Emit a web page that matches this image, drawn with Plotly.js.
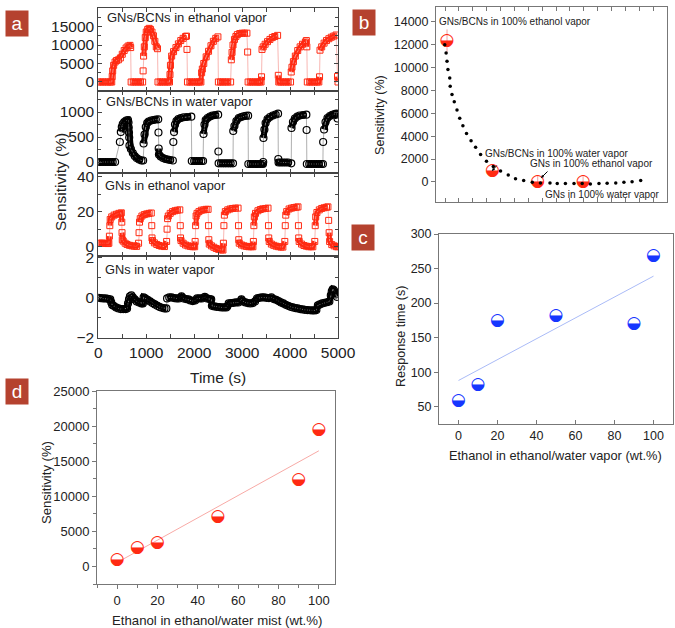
<!DOCTYPE html>
<html>
<head>
<meta charset="utf-8">
<script src="https://cdn.plot.ly/plotly-3.0.1.min.js"></script>
<style>
  body { margin: 0; background: #fff; }
  #chart { width: 675px; height: 628px; }
</style>
</head>
<body>
<div id="chart"></div>
<script>
// Panel a: sensitivity vs time, pairs of [time (s), sensitivity (%)]
const ethBCN = [
  [0,0],[50,0],[100,0],[150,0],[200,0],[250,0],[280,0],
  [290,1500],[300,3000],[320,4500],[350,5400],[380,5800],[420,6000],[460,6500],[500,7500],[540,8500],[580,9200],[620,9700],[660,9900],[675,9300],
  [685,0],[730,0],[780,0],[830,0],[880,0],[925,0],
  [935,3000],[945,7000],[960,9500],[980,12000],[1000,13500],[1030,14200],[1060,14500],[1090,14200],[1120,13500],[1150,12500],[1180,11000],[1210,9500],[1235,9000],
  [1245,0],[1290,0],[1340,0],[1390,0],[1440,0],[1485,0],
  [1495,2000],[1505,4500],[1530,7000],[1570,8200],[1620,9300],[1670,10300],[1720,11200],[1770,11800],[1820,12300],[1840,12400],[1850,8800],
  [1860,0],[1910,0],[1960,0],[2010,0],[2060,0],[2100,0],[2140,0],
  [2155,2500],[2170,3500],[2200,5000],[2250,6800],[2300,8300],[2350,9800],[2400,11000],[2450,11800],[2495,12200],
  [2505,0],[2550,0],[2600,0],[2650,0],[2700,0],[2760,0],
  [2775,6000],[2790,8000],[2810,10000],[2840,11500],[2870,12300],[2900,12800],[2950,13100],[3000,13200],[3050,13200],[3100,13200],[3115,8100],
  [3125,0],[3170,0],[3220,0],[3270,0],[3320,0],[3360,0],[3395,0],
  [3405,1400],[3415,8800],[3440,9500],[3480,10200],[3530,10900],[3580,11500],[3630,12000],[3680,12300],[3740,12600],[3755,1800],
  [3765,0],[3810,0],[3860,0],[3910,0],[3960,0],[4010,0],
  [4025,2700],[4040,4000],[4070,5500],[4110,7000],[4160,8500],[4210,9500],[4260,10200],[4320,10800],[4340,11200],[4350,9500],
  [4360,0],[4410,0],[4460,0],[4510,0],[4560,0],[4600,0],
  [4615,1400],[4625,8600],[4660,9500],[4710,10500],[4760,11200],[4810,11700],[4860,12100],[4910,12400],[4960,12700],[4990,1500],[5000,0]
];

const watBCN = [
  [0,0],[50,0],[100,0],[150,0],[200,0],[250,0],[300,0],[350,0],
  [450,400],[470,600],[490,700],[510,760],[540,800],[580,830],[620,840],
  [630,790],[635,690],[640,590],[645,490],[650,330],[680,260],[720,180],[760,120],[800,80],[850,50],[900,30],[935,30],
  [945,370],[965,550],[990,700],[1020,780],[1050,810],[1100,830],[1150,840],[1200,850],[1250,853],
  [1255,590],[1260,270],[1265,150],[1300,110],[1350,80],[1400,60],[1450,50],[1500,40],[1555,30],
  [1565,400],[1580,600],[1600,750],[1630,820],[1670,860],[1720,880],[1780,895],[1850,900],[1940,907],
  [1950,20],[2000,20],[2050,20],[2100,20],[2150,20],[2185,20],
  [2195,560],[2215,750],[2240,840],[2280,880],[2330,910],[2380,930],[2440,940],[2500,947],
  [2505,210],[2510,-27],[2560,-27],[2610,-27],[2660,-27],[2710,-27],[2760,-27],[2810,-27],
  [2815,620],[2840,720],[2880,820],[2930,880],[2980,900],[3030,915],[3080,925],[3125,927],
  [3130,-40],[3180,-40],[3230,-40],[3280,-40],[3330,-40],[3380,-40],[3435,-40],[3440,0],
  [3445,480],[3465,650],[3490,780],[3530,860],[3580,900],[3640,930],[3700,950],[3750,967],
  [3755,60],[3760,-10],[3810,-10],[3860,-10],[3910,-10],[3960,-10],[4025,-27],
  [4030,680],[4060,800],[4100,870],[4150,910],[4200,930],[4270,940],[4340,947],
  [4345,640],[4350,-40],[4400,-40],[4450,-40],[4500,-40],[4550,-40],[4600,-40],[4650,-40],[4685,-40],
  [4690,400],[4710,650],[4740,800],[4780,880],[4830,920],[4880,945],[4930,960],[4965,967],[4990,870]
];

const ethGN = [
  [0,2],[40,2],[80,2],[120,2],[160,1.9],[200,1.8],[220,2],[232,6],[240,12],[248,15.5],[280,17],[330,18],[380,18.5],[430,19],[480,19.3],[490,14],[495,8],[500,4],
  [520,3.2],[560,2],[600,1.3],[650,0.8],[700,0.5],[750,0.3],[800,0.2],
  [840,2],[850,8],[860,14],[875,16],[910,17.5],[960,18.3],[1010,18.7],[1060,19],[1105,19.2],[1115,12],[1120,5],
  [1130,3.5],[1170,2.2],[1220,1.3],[1270,0.7],[1320,0.3],[1380,0.1],
  [1425,3],[1435,10],[1445,16],[1460,17.5],[1500,19],[1550,20],[1600,20.5],[1650,20.8],[1700,21],[1710,12],[1715,5],
  [1725,3.5],[1770,2],[1820,1],[1870,0.5],[1920,0.2],[1970,0],[2010,0],
  [2020,3],[2030,12],[2040,17.5],[2060,19],[2100,20],[2150,20.8],[2200,21],[2250,21.3],[2290,21.3],[2300,12],[2305,4],
  [2315,1.5],[2360,0.5],[2410,-0.3],[2460,-1],[2510,-1.5],[2560,-1.8],[2600,-1.9],
  [2610,2],[2620,12],[2630,18],[2650,20],[2700,21],[2750,21.5],[2800,21.8],[2860,22],[2915,22],[2925,12],[2930,4],
  [2940,2],[2990,1],[3040,0.5],[3090,0.2],[3140,0],[3190,0],[3225,0],
  [3235,3],[3245,12],[3255,17],[3280,19],[3330,20.5],[3380,21.2],[3430,21.6],[3490,21.8],[3540,22],[3550,12],[3555,5],
  [3565,3],[3610,1.5],[3660,0.8],[3710,0.3],[3760,0],[3810,-0.2],[3850,-0.2],
  [3890,3],[3900,12],[3910,18],[3930,20],[3980,21.5],[4030,22],[4080,22.3],[4130,22.5],[4165,22.7],[4175,12],[4180,5],
  [4190,3],[4240,1.5],[4290,0.7],[4340,0.3],[4390,0],[4440,0],[4475,0],
  [4515,3],[4525,12],[4535,17],[4560,19.5],[4610,21],[4660,21.8],[4710,22.2],[4760,22.5],[4790,22.7],[4805,15],[4815,8],
  [4825,3],[4870,1.2],[4920,0.5],[4970,0],[5000,0]
];

const watGN = [
  [0,-0.02],[50,-0.03],[100,-0.05],[150,-0.05],[200,-0.07],[250,-0.1],[270,-0.25],[290,-0.38],[320,-0.42],[370,-0.5],[420,-0.55],[470,-0.58],[520,-0.58],[570,-0.58],[600,-0.55],
  [620,-0.3],[640,-0.1],[660,0.05],[690,0.1],[720,0.0],[760,-0.1],[800,-0.2],[850,-0.25],[900,-0.3],[930,-0.3],
  [945,0.0],[980,-0.05],[1030,-0.12],[1080,-0.2],[1130,-0.28],[1180,-0.35],[1230,-0.42],[1280,-0.48],[1330,-0.52],[1380,-0.55],[1420,-0.55],
  [1435,-0.05],[1480,0.0],[1530,0.0],[1580,-0.03],[1630,-0.05],[1680,-0.05],[1736,0.05],[1780,-0.05],[1830,-0.08],[1880,-0.1],[1920,-0.15],[1970,-0.18],[2020,-0.15],
  [2060,-0.05],[2110,-0.05],[2160,-0.05],[2222,0.03],[2270,-0.05],[2320,-0.08],[2355,-0.1],
  [2370,-0.42],[2420,-0.45],[2470,-0.47],[2520,-0.48],[2570,-0.5],[2620,-0.5],[2670,-0.5],[2690,-0.45],
  [2720,-0.3],[2770,-0.28],[2820,-0.27],[2870,-0.25],[2920,-0.25],[2986,-0.1],[3020,-0.2],[3070,-0.25],[3120,-0.28],[3170,-0.3],[3220,-0.28],[3270,-0.2],
  [3310,-0.05],[3360,-0.02],[3410,0.0],[3460,0.0],[3510,-0.02],[3560,-0.03],[3611,0.0],
  [3660,-0.08],[3710,-0.12],[3760,-0.18],[3810,-0.25],[3860,-0.3],[3910,-0.37],[3960,-0.42],[4010,-0.47],[4060,-0.5],[4110,-0.53],[4160,-0.55],
  [4210,-0.58],[4260,-0.6],[4310,-0.62],[4360,-0.63],[4410,-0.64],[4460,-0.65],[4510,-0.65],[4549,-0.63],
  [4580,-0.4],[4620,-0.35],[4670,-0.3],[4720,-0.27],[4770,-0.24],[4820,-0.2],[4850,0.1],[4870,0.3],[4890,0.4],[4920,0.35],[4950,0.15],[4975,0.03]
];

// Panel b: comparison of the four sensors
const compX = [1, 2, 3, 4];
const compSens = [12340, 960, 20, -1];
const compErr = [1000, 0, 500, 500];
const compLabels = ['GNs/BCNs in 100% ethanol vapor', 'GNs/BCNs in 100% water vapor', 'GNs in 100% ethanol vapor', 'GNs in 100% water vapor'];
// dotted decay curve
const decayX = [0.95,0.98,1.0,1.02,1.06,1.07,1.11,1.16,1.22,1.28,1.35,1.43,1.53,1.63,1.74,1.87,2.02,2.18,2.35,2.51,2.69,2.88,3.06,3.27,3.43,3.61,3.80,3.98,4.16,4.35,4.53,4.72,4.90,5.08,5.27];
const decayY = [11990,11270,10550,9830,9100,8380,7660,7020,6300,5580,4910,4250,3610,3030,2400,1820,1360,950,610,290,140,-30,-90,-90,-140,-140,-140,-140,-170,-140,-120,-90,-30,30,120];

// Panels c and d: ethanol content (wt.%)
const ethanolPct = [0, 10, 20, 50, 90, 100];
const responseTime = [58, 82, 174, 182, 170, 269];
const respFitX = [0, 100];
const respFitY = [88, 239];
const mistSens = [900, 2620, 3340, 7020, 12410, 19430];
const mistFitX = [0, 100];
const mistFitY = [570, 16480];

const FONT = 'Arial, "Liberation Sans", sans-serif';
const RED = '#ff2a12';
const BLUE = '#1636ff';
const W = 675, H = 628;
const px = v => v / W;
const py = v => 1 - v / H;

const aDomX = [px(98.3), px(338)];
const aEdges = [8, 90.5, 173, 255.5, 338];
const aRanges = [[-2300, 20000], [-220, 1430], [-5, 42], [-2.03, 2.1]];
const aDticks = [5000, 500, 20, 2];

function split(pairs) {
  return { x: pairs.map(p => p[0]), y: pairs.map(p => p[1]) };
}

// thick band behind the markers, broken at the fast jumps
function bandTrace(pairs, k, color, width) {
  const span = aRanges[k - 1][1] - aRanges[k - 1][0];
  const x = [], y = [];
  pairs.forEach((p, i) => {
    if (i > 0 && Math.abs(p[1] - pairs[i - 1][1]) > 0.12 * span) {
      x.push(p[0]); y.push(null);
    }
    x.push(p[0]); y.push(p[1]);
  });
  return {
    x: x, y: y, xaxis: 'x' + k, yaxis: 'y' + k,
    type: 'scatter', mode: 'lines', connectgaps: false,
    line: { color: color, width: width }, hoverinfo: 'skip'
  };
}

function timeTrace(pairs, k, isSquare) {
  const d = split(pairs);
  return {
    x: d.x, y: d.y, xaxis: 'x' + k, yaxis: 'y' + k,
    type: 'scatter', mode: 'lines+markers',
    line: { color: isSquare ? '#f6a4a0' : '#9a9a9a', width: 0.8 },
    marker: isSquare
      ? { symbol: 'square-open', size: 6, color: RED, line: { width: 1, color: RED } }
      : { symbol: 'circle-open', size: 7, color: '#000', line: { width: 1.2, color: '#000' } },
    hoverinfo: 'skip'
  };
}

function halfDots(x, y, color, k, extra) {
  return Object.assign({
    x: x, y: y, xaxis: 'x' + k, yaxis: 'y' + k,
    type: 'scatter', mode: 'text',
    text: x.map(() => '\u25D2'),
    textposition: 'middle center',
    textfont: { family: '"DejaVu Sans"', size: 17, color: color },
    cliponaxis: false, hoverinfo: 'skip'
  }, extra || {});
}

const data = [
  bandTrace(ethBCN, 1, RED, 5),
  timeTrace(ethBCN, 1, true),
  bandTrace(watBCN, 2, '#000', 6),
  timeTrace(watBCN, 2, false),
  bandTrace(ethGN, 3, RED, 5),
  timeTrace(ethGN, 3, true),
  bandTrace(watGN, 4, '#000', 6),
  timeTrace(watGN, 4, false),
  halfDots(compX, compSens, RED, 5, {
    error_y: { type: 'data', array: compErr, visible: true, color: '#f4a2a2', thickness: 1, width: 0 }
  }),
  { x: decayX, y: decayY, xaxis: 'x5', yaxis: 'y5', type: 'scatter', mode: 'markers',
    marker: { size: 3.5, color: '#000' }, hoverinfo: 'skip' },
  { x: respFitX, y: respFitY, xaxis: 'x6', yaxis: 'y6', type: 'scatter', mode: 'lines',
    line: { color: '#aabbf7', width: 1 }, hoverinfo: 'skip' },
  halfDots(ethanolPct, responseTime, BLUE, 6),
  { x: mistFitX, y: mistFitY, xaxis: 'x7', yaxis: 'y7', type: 'scatter', mode: 'lines',
    line: { color: '#f8aaa6', width: 1 }, hoverinfo: 'skip' },
  halfDots(ethanolPct, mistSens, RED, 7)
];

function axis(o) {
  return Object.assign({
    showgrid: false, zeroline: false, showline: true, linecolor: '#444', linewidth: 1,
    mirror: 'allticks', ticks: 'inside', ticklen: 4, tickcolor: '#444', tickformat: 'd',
    tickfont: { family: FONT, size: 15.5, color: '#222' }, fixedrange: true
  }, o);
}

const layout = {
  width: W, height: H,
  margin: { l: 0, r: 0, t: 0, b: 0 },
  paper_bgcolor: '#fff', plot_bgcolor: 'rgba(0,0,0,0)',
  showlegend: false,
  font: { family: FONT, color: '#222' },
  annotations: []
};

for (let k = 1; k <= 4; k++) {
  const xa = axis({
    domain: aDomX, anchor: 'y' + k, range: [0, 5000], dtick: 1000,
    minor: { dtick: 500, ticklen: 4, ticks: 'inside', tickcolor: '#444' },
    showticklabels: k === 4
  });
  if (k !== 4) xa.matches = 'x4';
  layout[k === 1 ? 'xaxis' : 'xaxis' + k] = xa;
  layout[k === 1 ? 'yaxis' : 'yaxis' + k] = axis({
    domain: [py(aEdges[k]), py(aEdges[k - 1])], anchor: 'x' + k,
    range: aRanges[k - 1], dtick: aDticks[k - 1],
    minor: { dtick: aDticks[k - 1] / 2, ticklen: 3, ticks: 'inside', tickcolor: '#444' }
  });
}

const small = { family: FONT, size: 12.5, color: '#222' };

// panel b
layout.xaxis5 = axis({
  domain: [px(436), px(667)], anchor: 'y5', range: [0.757, 5.85],
  tick0: 0.956, dtick: 0.306, showticklabels: false, linecolor: '#777', tickcolor: '#777'
});
layout.yaxis5 = axis({
  domain: [py(202), py(7)], anchor: 'x5', range: [-1750, 15300], dtick: 2000,
  ticks: 'outside', mirror: true, tickfont: small, linecolor: '#777', tickcolor: '#777'
});

// panel c
layout.xaxis6 = axis({
  domain: [px(439), px(673)], anchor: 'y6', range: [-10, 110], dtick: 20,
  mirror: true, tickfont: small, linecolor: '#777', tickcolor: '#777'
});
layout.yaxis6 = axis({
  domain: [py(424), py(234)], anchor: 'x6', range: [25, 300], dtick: 50,
  ticks: 'outside', mirror: true, tickfont: small, linecolor: '#777', tickcolor: '#777'
});

// panel d
const small13 = { family: FONT, size: 13, color: '#222' };
layout.xaxis7 = axis({
  domain: [px(97), px(335)], anchor: 'y7', range: [-10, 108], dtick: 20,
  ticks: 'outside', mirror: true, tickfont: small13, linecolor: '#777', tickcolor: '#777',
  minor: { dtick: 10, ticklen: 3, ticks: 'outside', tickcolor: '#777' }
});
layout.yaxis7 = axis({
  domain: [py(584), py(391)], anchor: 'x7', range: [-2500, 25000], dtick: 5000,
  ticks: 'outside', mirror: true, tickfont: small13, linecolor: '#777', tickcolor: '#777',
  minor: { dtick: 2500, ticklen: 3, ticks: 'outside', tickcolor: '#777' }
});

function note(text, x, y, size, opts) {
  return Object.assign({
    text: text, xref: 'paper', yref: 'paper', x: px(x), y: py(y),
    showarrow: false, xanchor: 'left', yanchor: 'middle',
    font: { family: FONT, size: size, color: '#222' }
  }, opts || {});
}

function tag(letter, cx, cy) {
  return {
    text: letter, xref: 'paper', yref: 'paper', x: px(cx), y: py(cy),
    showarrow: false, xanchor: 'center', yanchor: 'middle',
    width: 20, height: 23, bgcolor: '#b5422f',
    font: { family: FONT, size: 19, color: '#fff' }
  };
}

layout.annotations.push(
  tag('a', 16.5, 23.5), tag('b', 363.5, 22.5), tag('c', 363, 237.5), tag('d', 16.5, 391.5),
  note('GNs/BCNs in ethanol vapor', 105, 18, 13),
  note('GNs/BCNs in water vapor', 104, 102, 12.8),
  note('GNs in ethanol vapor', 103, 185, 12.8),
  note('GNs in water vapor', 103, 269, 12.8),
  note('Time (s)', 218, 377, 15.5, { xanchor: 'center' }),
  note('Sensitivity (%)', 60, 182, 15.5, { xanchor: 'center', textangle: -90 }),
  note(compLabels[0], 437, 22, 10),
  note(compLabels[1], 483, 153, 10),
  note(compLabels[2], 528, 163, 10),
  note(compLabels[3], 543, 194, 10),
  note('Sensitivity (%)', 380, 115, 12.6, { xanchor: 'center', textangle: -90 }),
  note('Response time (s)', 401, 337, 12.5, { xanchor: 'center', textangle: -90 }),
  note('Ethanol in ethanol/water vapor (wt.%)', 555, 455, 12.8, { xanchor: 'center' }),
  note('Sensitivity (%)', 46, 483, 13.1, { xanchor: 'center', textangle: -90 }),
  note('Ethanol in ethanol/water mist (wt.%)', 217, 620, 13.2, { xanchor: 'center' })
);

// small arrows pointing at two of the panel b markers
[[492, 171, 6, -7], [541, 178, 8, -8]].forEach(a => {
  layout.annotations.push({
    text: '', xref: 'paper', yref: 'paper', x: px(a[0]), y: py(a[1]),
    showarrow: true, ax: a[2], ay: a[3], arrowhead: 2, arrowsize: 0.6,
    arrowwidth: 1, arrowcolor: '#000'
  });
});

Plotly.newPlot('chart', data, layout, { displayModeBar: false, staticPlot: true });
</script>
</body>
</html>
